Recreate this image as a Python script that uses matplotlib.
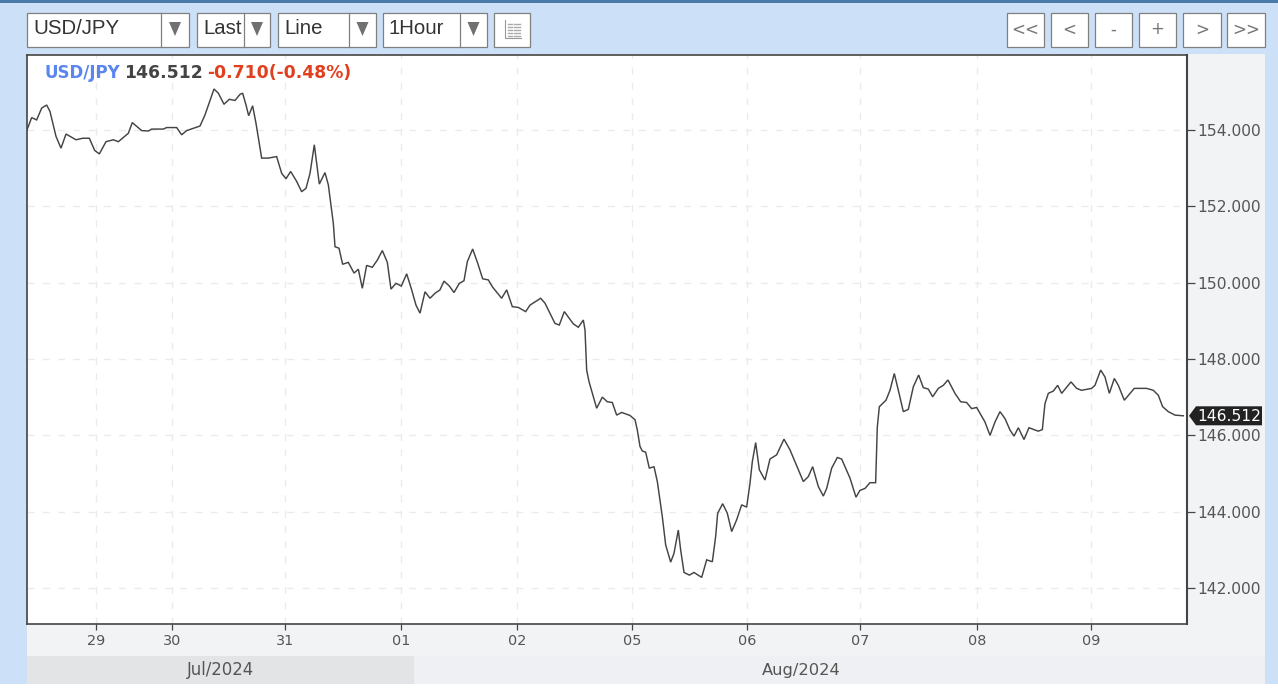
import matplotlib
matplotlib.use("Agg")
import matplotlib.pyplot as plt
from matplotlib.patches import Rectangle, Polygon

# Hours since the first bar shown, and the USD/JPY close
hours = [0, .97, 2.01, 3.06, 4.10, 4.79, 6.04, 7.08, 8.13, 10.21, 11.6, 12.99, 14.10, 15.07, 16.46, 17.99, 19.03, 21.11,
         21.94, 23.89, 25.28, 25.97, 28.40, 29.10, 31.18, 32.22, 33.26, 36.04, 37.08, 38.96, 39.86, 41.04, 42.15, 43.33,
         44.38, 44.93, 45.63, 46.18, 47.01, 47.71, 48.89, 50.28, 52.01, 53.06, 53.96, 54.93, 56.18, 57.22, 58.13, 58.96,
         59.86, 60.90, 62.08, 62.78, 63.82, 64.17, 65.0, 65.76, 66.94, 68.13, 69.03, 69.86, 70.76, 71.94, 72.99, 74.03,
         75.07, 75.83, 76.87, 77.99, 79.10, 80.14, 81.04, 81.88, 82.92, 83.96, 85.0, 86.04, 86.88, 87.99, 88.96, 90.07,
         91.04, 91.74, 92.85, 93.89, 94.93, 96.11, 97.01, 98.89, 99.93, 101.11, 102.36, 103.89, 104.79, 107.01, 107.92,
         110.0, 110.90, 111.94, 113.82, 114.86, 115.90, 116.25, 116.60, 117.08, 117.78, 118.68, 119.86, 120.90, 121.94,
         122.85, 123.89, 125.63, 126.67, 127.15, 127.71, 128.19, 128.89, 129.65, 130.63, 131.32, 132.36, 133.06, 134.10,
         134.79, 135.69, 136.18, 136.88, 137.99, 138.96, 140.56, 141.60, 142.78, 143.47, 143.89, 144.93, 145.90, 146.81,
         147.85, 148.89, 149.93, 150.63, 151.11, 151.81, 152.57, 153.75, 154.79, 156.18, 157.71, 158.96, 161.74, 162.78,
         163.68, 164.86, 165.90, 166.60, 167.64, 168.82, 169.72, 171.46, 172.71, 173.54, 174.58, 175.62, 176.80, 177.15,
         177.57, 178.96, 179.79, 180.69, 181.53, 182.57, 183.61, 184.65, 185.76, 186.73, 187.78, 188.68, 189.86, 190.90,
         191.87, 193.33, 194.51, 195.76, 196.80, 197.85, 199.58, 200.63, 201.67, 202.71, 203.75, 204.79, 205.63, 206.53,
         207.71, 208.75, 210.0, 210.69, 211.53, 212.08, 212.78, 213.82, 214.72, 215.56, 217.5, 218.68, 219.72, 221.80,
         222.5, 223.68, 224.58, 225.49, 226.53, 227.36, 228.61, 230.69, 233.26, 234.65, 235.69, 236.60, 237.78, 239.17,
         240.9]
prices = [154.00, 154.32, 154.26, 154.57, 154.65, 154.48, 153.83, 153.52, 153.89, 153.74, 153.78, 153.78, 153.46, 153.37,
          153.69, 153.74, 153.69, 153.91, 154.19, 153.98, 153.97, 154.02, 154.02, 154.06, 154.06, 153.87, 153.98, 154.10,
          154.39, 155.07, 154.96, 154.67, 154.80, 154.77, 154.93, 154.96, 154.65, 154.37, 154.63, 154.17, 153.26, 153.26,
          153.30, 152.86, 152.72, 152.91, 152.65, 152.38, 152.47, 152.86, 153.61, 152.58, 152.88, 152.56, 151.55, 150.94,
          150.90, 150.48, 150.53, 150.25, 150.35, 149.85, 150.45, 150.40, 150.59, 150.84, 150.53, 149.83, 149.98, 149.91,
          150.23, 149.81, 149.41, 149.20, 149.76, 149.59, 149.72, 149.81, 150.04, 149.91, 149.74, 149.98, 150.05, 150.55,
          150.88, 150.51, 150.10, 150.07, 149.88, 149.59, 149.81, 149.37, 149.35, 149.24, 149.41, 149.59, 149.46, 148.93,
          148.89, 149.24, 148.92, 148.83, 149.02, 148.76, 147.71, 147.41, 147.10, 146.71, 147.0, 146.88, 146.86, 146.53,
          146.60, 146.52, 146.41, 146.14, 145.71, 145.59, 145.56, 145.14, 145.18, 144.79, 143.87, 143.13, 142.68, 142.91,
          143.52, 143.0, 142.41, 142.34, 142.41, 142.28, 142.74, 142.69, 143.35, 143.96, 144.21, 143.96, 143.48, 143.79,
          144.18, 144.12, 144.75, 145.31, 145.81, 145.10, 144.83, 145.38, 145.49, 145.90, 145.62, 144.79, 144.92, 145.18,
          144.66, 144.41, 144.61, 145.14, 145.42, 145.38, 144.88, 144.38, 144.56, 144.61, 144.76, 144.76, 146.22, 146.75,
          146.92, 147.18, 147.62, 147.18, 146.62, 146.68, 147.27, 147.58, 147.25, 147.21, 147.01, 147.23, 147.31, 147.45,
          147.10, 146.88, 146.86, 146.70, 146.73, 146.35, 146.0, 146.35, 146.62, 146.44, 146.14, 145.98, 146.20, 145.89,
          146.20, 146.14, 146.11, 146.15, 146.83, 147.10, 147.16, 147.31, 147.10, 147.40, 147.23, 147.18, 147.23, 147.31,
          147.71, 147.53, 147.10, 147.49, 147.31, 146.92, 147.23, 147.23, 147.18, 147.05, 146.75, 146.62, 146.53, 146.512]

day_hours = [14.375, 30.2, 53.75, 77.9, 102.1, 126.0, 150.0, 173.5, 197.9, 221.7]
day_labels = ["29", "30", "31", "01", "02", "05", "06", "07", "08", "09"]
y_ticks = [142, 144, 146, 148, 150, 152, 154]
y_labels = ["142.000", "144.000", "146.000", "148.000", "150.000", "152.000", "154.000"]
symbol = "USD/JPY"
last_text = "146.512"
change_text = "-0.710(-0.48%)"

W, H = 1278, 690
fig = plt.figure(figsize=(W / 100, H / 100), dpi=100, facecolor="white")

# Page chrome in pixel coordinates
bg = fig.add_axes([0, 0, 1, 1], zorder=0)
bg.set_xlim(0, W); bg.set_ylim(H, 0); bg.axis("off")
top = fig.add_axes([0, 0, 1, 1], zorder=5)
top.set_xlim(0, W); top.set_ylim(H, 0); top.axis("off"); top.patch.set_alpha(0)


def rect(a, x0, y0, x1, y1, fc, ec="none", lw=0, z=1):
    a.add_patch(Rectangle((x0, y0), x1 - x0, y1 - y0, fc=fc, ec=ec, lw=lw, zorder=z))


rect(bg, 0, 0, W, 684, "#cce0f8")
rect(bg, 0, 0, W, 3, "#4a7aa8", z=2)
rect(bg, 27, 54, 1265, 656, "#f2f3f5", z=2)
rect(bg, 27, 656, 414, 684, "#e3e4e6", z=2)
rect(bg, 414, 656, 1265, 684, "#eef0f3", z=2)

BORDER = "#808080"
drops = [(27, 189, 161, "USD/JPY"), (197, 270, 244, "Last"), (278, 376, 349, "Line"), (383, 487, 460, "1Hour")]
for x0, x1, d, label in drops:
    rect(bg, x0, 12.5, x1, 47, "white", BORDER, 0.9, 3)
    bg.plot([d, d], [12.5, 47], color=BORDER, lw=0.9, zorder=4)
    bg.add_patch(Polygon([[(d + x1) / 2 - 6, 22], [(d + x1) / 2 + 6, 22], [(d + x1) / 2, 36]], fc="#707070", ec="none", zorder=4))
    bg.text(x0 + 6, 28, label, family="Liberation Sans", fontsize=14.7, color="#333333", va="center", ha="left", zorder=5)

rect(bg, 494, 12.5, 530, 47, "white", BORDER, 0.9, 3)
bg.plot([505, 505, 521], [20, 38, 38], color="#999999", lw=0.8, zorder=4)
for yy in (24, 27, 30, 33, 36):
    bg.plot([508, 512], [yy, yy], color="#aaaaaa", lw=1.0, zorder=4)
    bg.plot([514, 520], [yy, yy], color="#aaaaaa", lw=1.0, zorder=4)

nav = [(1007, 1044, "<<"), (1051, 1088, "<"), (1095, 1132, "-"), (1139, 1176, "+"), (1183, 1221, ">"), (1227, 1265, ">>")]
for x0, x1, label in nav:
    rect(bg, x0, 12.5, x1, 47, "white", BORDER, 0.9, 3)
    bg.text((x0 + x1) / 2, 29.5, label, family="DejaVu Sans", fontsize=12, color="#777777", ha="center", va="center", zorder=5)

# Plot area
left, right, ytop, ybot = 27, 1187, 55, 624
ax = fig.add_axes([left / W, 1 - ybot / H, (right - left) / W, (ybot - ytop) / H], zorder=2)
ax.set_facecolor("white")
ax.set_xlim(0, 241.67)
ax.set_ylim(141.06, 155.96)
ax.grid(True, color="#ebebeb", lw=1.0, ls=(0, (5, 6)))
ax.set_axisbelow(True)
ax.plot(hours, prices, color="#444444", lw=1.05, solid_joinstyle="miter", zorder=3)

ax.set_xticks(day_hours, day_labels)
ax.yaxis.tick_right()
ax.set_yticks(y_ticks, y_labels)
ax.tick_params(axis="x", length=4, width=0.9, color="#444444", labelsize=10.4, labelcolor="#555555", pad=3)
ax.tick_params(axis="y", length=6, width=0.9, color="#444444", labelsize=11.2, labelcolor="#555555", pad=1.5)
for s in ax.spines.values():
    s.set_color("#444444")
    s.set_linewidth(1.2)
ax.spines["right"].set_linewidth(1.5)

# Header legend
hdr_y = 73.5
hdr_kw = dict(family="DejaVu Sans", weight="bold", va="center", ha="left", zorder=6)
top.text(44, hdr_y, symbol, color="#5a86f0", fontsize=12, **hdr_kw)
top.text(124, hdr_y, last_text, color="#444444", fontsize=12.4, **hdr_kw)
top.text(207, hdr_y, change_text, color="#e04020", fontsize=12.4, **hdr_kw)

# Month bands
top.text(220, 670, "Jul/2024", family="DejaVu Sans", fontsize=11.9, color="#555555", ha="center", va="center")
top.text(801, 671, "Aug/2024", family="DejaVu Sans", fontsize=11.7, color="#555555", ha="center", va="center")

# Last-price tag, placed through the axis scale
fig.canvas.draw()
tag_y = H - ax.transData.transform((0, prices[-1]))[1]
top.add_patch(Polygon([[1189, tag_y], [1196, tag_y - 9.5], [1262, tag_y - 9.5], [1262, tag_y + 9.5], [1196, tag_y + 9.5]],
                      fc="#222222", ec="none", zorder=5))
top.text(1229, tag_y + 0.5, last_text, family="DejaVu Sans", fontsize=11.2, color="white", ha="center", va="center", zorder=6)

fig.savefig("out.png", dpi=100, facecolor="white")
